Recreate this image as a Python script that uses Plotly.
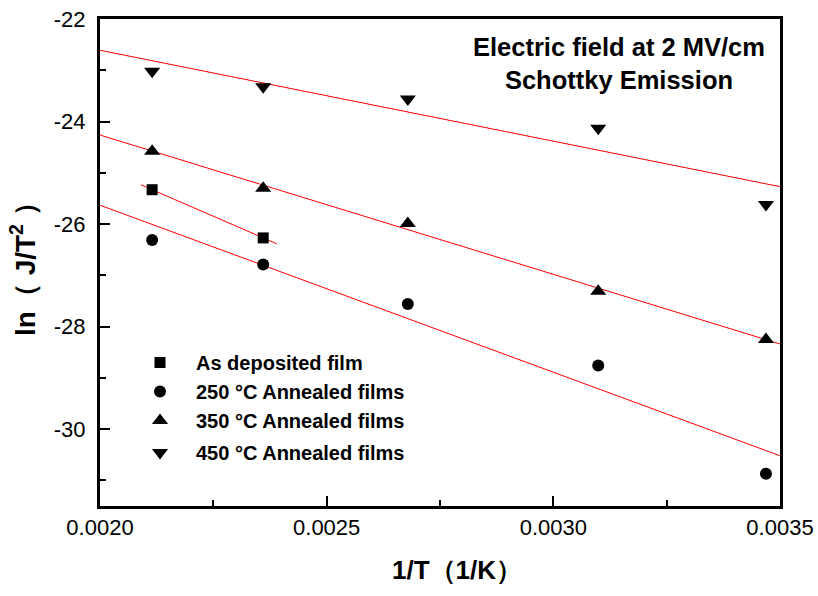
import numpy as np
import plotly.graph_objects as go

# ---- data ----
inv_T = [0.002115, 0.002360, 0.002679, 0.003099, 0.003469]

as_dep_x = [0.002115, 0.002360]
as_dep_y = [-25.33, -26.27]
ann250_y = [-26.31, -26.79, -27.56, -28.76, -30.87]
ann350_y = [-24.58, -25.30, -25.99, -27.31, -28.25]
ann450_y = [-23.02, -23.32, -23.56, -24.13, -25.62]

fit_span_full = [0.0020, 0.0035]
fit_span_asdep = [0.00209, 0.00239]

y_tickvals = [-30, -28, -26, -24, -22]
y_ticktext = ["-30", "-28", "-26", "-24", "-22"]
x_tickvals = [0.0020, 0.0025, 0.0030, 0.0035]
x_ticktext = ["0.0020", "0.0025", "0.0030", "0.0035"]

FONT = "Arial, 'Liberation Sans', sans-serif"

fig = go.Figure()

series = [
    ("As deposited film", as_dep_x, as_dep_y, "square", 11, fit_span_asdep, "a"),
    ("250 °C Annealed films", inv_T, ann250_y, "circle", 12, fit_span_full, "a"),
    ("350 °C Annealed films", inv_T, ann350_y, "triangle-up", 14, fit_span_full, "a"),
    ("450 °C Annealed films", inv_T, ann450_y, "triangle-down", 14, fit_span_full, "b"),
]

# linear fit lines
for name, xs, ys, sym, sz, span, grp in series:
    k, b = np.polyfit(xs, ys, 1)
    fx = np.array(span)
    fig.add_trace(go.Scatter(x=fx, y=k * fx + b, mode="lines",
                             line=dict(color="#ff0000", width=1),
                             showlegend=False, hoverinfo="skip"))

for name, xs, ys, sym, sz, span, grp in series:
    fig.add_trace(go.Scatter(x=xs, y=ys, mode="markers", name=name,
                             legendgroup=grp,
                             marker=dict(symbol=sym, size=sz, color="black",
                                         line=dict(width=0))))

axis_common = dict(showline=True, linecolor="black", linewidth=3, mirror=True,
                   ticks="inside", ticklen=10, tickwidth=2, tickcolor="black",
                   showgrid=False, zeroline=False, automargin=False,
                   ticklabeloverflow="allow",
                   tickfont=dict(family=FONT, size=22, color="black"))

fig.update_xaxes(range=[0.0020, 0.0035], tickvals=x_tickvals, ticktext=x_ticktext,
                 minor=dict(ticks="inside", ticklen=6, tickwidth=2, dtick=0.00025,
                            tick0=0.0020, tickcolor="black", showgrid=False),
                 ticklabelstandoff=0,
                 **axis_common)
fig.update_yaxes(range=[-31.5, -22], tickvals=y_tickvals, ticktext=y_ticktext,
                 minor=dict(ticks="inside", ticklen=6, tickwidth=2, dtick=1,
                            tick0=-22, tickcolor="black", showgrid=False),
                 ticklabelstandoff=7,
                 **axis_common)

# plot area in screen pixels: x 100..780, y 19..506
def px(x):
    return (x - 100) / 680

def py(y):
    return (506 - y) / 487

fig.add_annotation(xref="paper", yref="paper", x=px(619), y=py(64),
                   text="Electric field at 2 MV/cm<br>Schottky Emission",
                   showarrow=False, align="center", xanchor="center", yanchor="middle",
                   font=dict(family=FONT, size=25.5, color="black", weight="bold"))

fig.add_annotation(xref="paper", yref="paper", x=px(457), y=py(570),
                   text="1/T（1/K）", showarrow=False,
                   xanchor="center", yanchor="middle",
                   font=dict(family=FONT, size=26, color="black", weight="bold"))

fig.add_annotation(xref="paper", yref="paper", x=px(23), y=py(262),
                   text="ln（ J/T<sup>2</sup> ）", showarrow=False, textangle=-90,
                   xanchor="center", yanchor="middle",
                   font=dict(family=FONT, size=28, color="black", weight="bold"))

fig.update_layout(
    width=818, height=596,
    margin=dict(l=100, r=38, t=19, b=90),
    paper_bgcolor="white", plot_bgcolor="white",
    showlegend=True,
    legend=dict(x=px(124), y=py(343), xanchor="left", yanchor="top",
                bgcolor="rgba(0,0,0,0)", tracegroupgap=3, itemwidth=62,
                font=dict(family=FONT, size=20, color="black", weight="bold")),
)

fig.write_html("out.html",
               config={"displayModeBar": False},
               post_script="document.body.style.margin='0';")
